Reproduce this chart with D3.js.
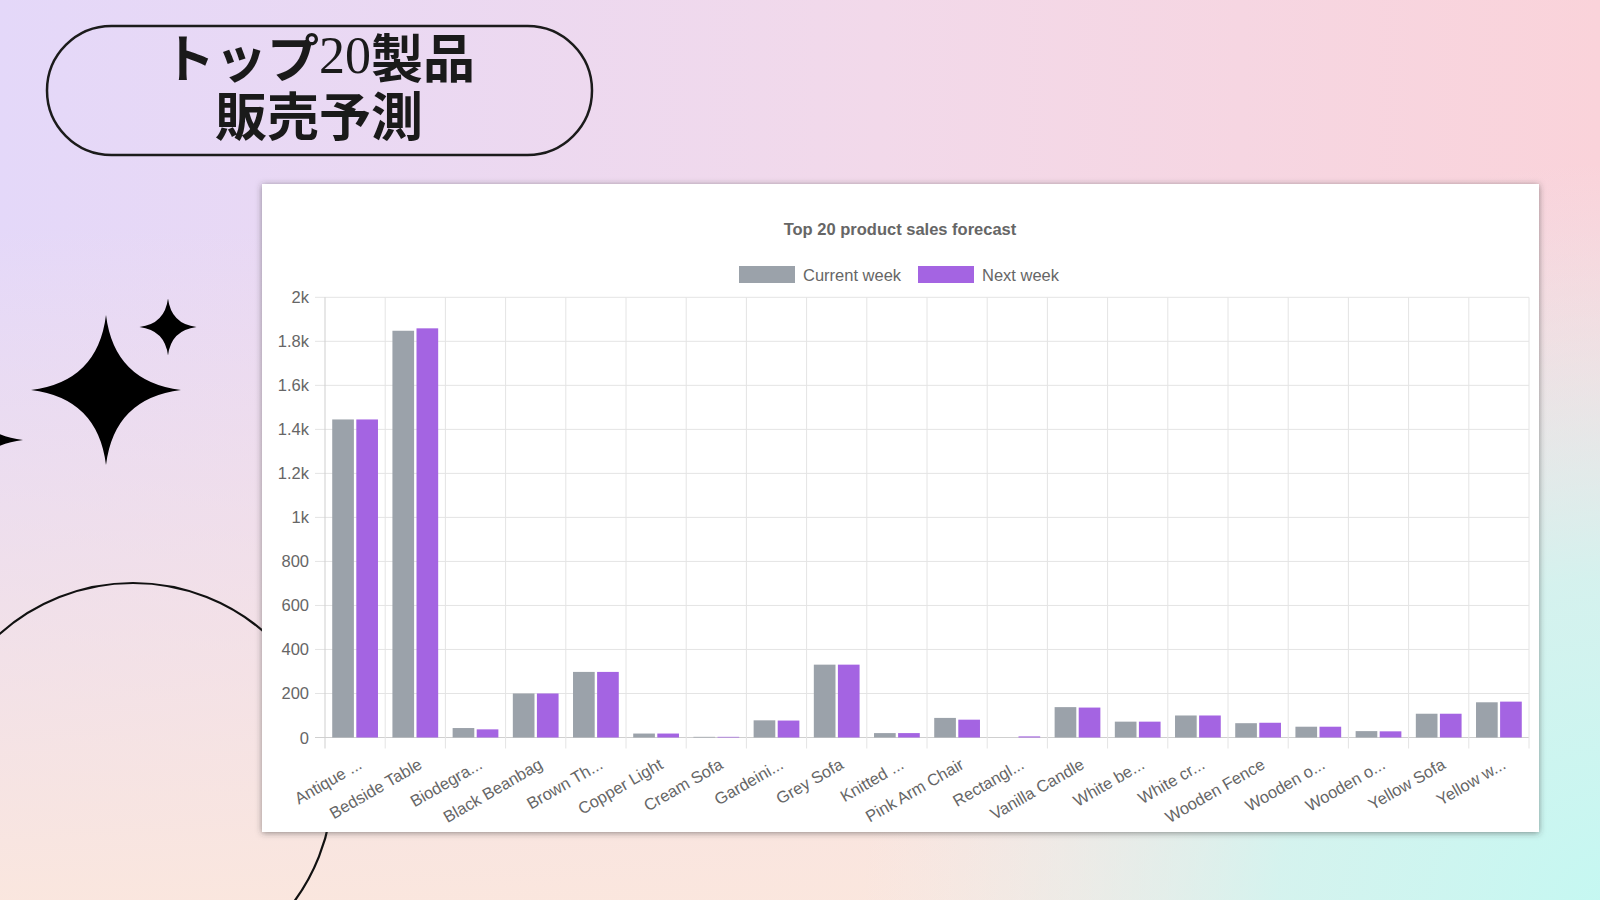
<!DOCTYPE html>
<html>
<head>
<meta charset="utf-8">
<script src="https://cdn.jsdelivr.net/npm/d3@7"></script>
<style>
  html, body { margin: 0; padding: 0; background: #fff; }
  svg { display: block; }
  .tick-label { font-family: "Liberation Sans", Arial, sans-serif; font-size: 16.5px; fill: #666; }
</style>
</head>
<body>
<div id="chart"></div>
<script>
// chart values
var categories = ["Antique ...", "Bedside Table", "Biodegra...", "Black Beanbag", "Brown Th...",
  "Copper Light", "Cream Sofa", "Gardeini...", "Grey Sofa", "Knitted ...",
  "Pink Arm Chair", "Rectangl...", "Vanilla Candle", "White be...", "White cr...",
  "Wooden Fence", "Wooden o...", "Wooden o...", "Yellow Sofa", "Yellow w..."]
var currentWeek = [1445, 1848, 43, 200, 298, 18, 3, 78, 331, 20, 89, 0, 138, 72, 100, 65, 49, 29, 108, 160]
var nextWeek    = [1445, 1859, 37, 200, 298, 18, 3, 77, 331, 20, 81, 5, 136, 72, 100, 67, 49, 28, 108, 163]
var seriesNames = ["Current week", "Next week"]
var seriesColors = ["#9ba2aa", "#a464e2"]
var yTicks = [0, 200, 400, 600, 800, 1000, 1200, 1400, 1600, 1800, 2000]
var chartTitle = "Top 20 product sales forecast"
var headline = ["トップ", "20", "製品"]
var headline2 = "販売予測"

var W = 1600, H = 900

var svg = d3.select("#chart").append("svg").attr("width", W).attr("height", H)
var defs = svg.append("defs")

// background gradients
var lg = defs.append("linearGradient").attr("id", "bgTop").attr("x1", 0).attr("y1", 0).attr("x2", 1).attr("y2", 0)
lg.append("stop").attr("offset", 0).attr("stop-color", "#e4d8f9")
lg.append("stop").attr("offset", 0.55).attr("stop-color", "#f2d9ea")
lg.append("stop").attr("offset", 1).attr("stop-color", "#fad3da")

var lv = defs.append("linearGradient").attr("id", "bgBottom").attr("x1", 0).attr("y1", 0).attr("x2", 0).attr("y2", 1)
lv.append("stop").attr("offset", 0.25).attr("stop-color", "#fbe7dd").attr("stop-opacity", 0)
lv.append("stop").attr("offset", 1).attr("stop-color", "#fbe7dd").attr("stop-opacity", 0.95)

var rg = defs.append("radialGradient").attr("id", "bgMint")
  .attr("gradientUnits", "userSpaceOnUse").attr("cx", 1620).attr("cy", 920).attr("r", 760)
rg.append("stop").attr("offset", 0).attr("stop-color", "#c4f8f2").attr("stop-opacity", 1)
rg.append("stop").attr("offset", 0.45).attr("stop-color", "#cef5f1").attr("stop-opacity", 0.85)
rg.append("stop").attr("offset", 1).attr("stop-color", "#e8eef3").attr("stop-opacity", 0)

var shadow = defs.append("filter").attr("id", "cardShadow")
  .attr("x", "-5%").attr("y", "-5%").attr("width", "110%").attr("height", "110%")
shadow.append("feDropShadow").attr("dx", 0).attr("dy", 1).attr("stdDeviation", 3)
  .attr("flood-color", "#3a3a3a").attr("flood-opacity", 0.55)

svg.append("rect").attr("width", W).attr("height", H).attr("fill", "url(#bgTop)")
svg.append("rect").attr("width", W).attr("height", H).attr("fill", "url(#bgBottom)")
svg.append("rect").attr("width", W).attr("height", H).attr("fill", "url(#bgMint)")

// decorations: arc behind the card and sparkles
svg.append("circle").attr("cx", 133).attr("cy", 783).attr("r", 200)
  .attr("fill", "none").attr("stroke", "#111").attr("stroke-width", 2.2)

function sparkle(cx, cy, r) {
  var c = r * 0.11
  var p = d3.path()
  p.moveTo(cx, cy - r)
  p.quadraticCurveTo(cx + c, cy - c, cx + r, cy)
  p.quadraticCurveTo(cx + c, cy + c, cx, cy + r)
  p.quadraticCurveTo(cx - c, cy + c, cx - r, cy)
  p.quadraticCurveTo(cx - c, cy - c, cx, cy - r)
  p.closePath()
  return p.toString()
}
svg.append("path").attr("d", sparkle(106, 390, 75)).attr("fill", "#000")
svg.append("path").attr("d", sparkle(168, 327, 28.5)).attr("fill", "#000")
svg.append("path").attr("d", sparkle(-38, 440, 61)).attr("fill", "#000")

// headline pill
svg.append("rect").attr("x", 47).attr("y", 26).attr("width", 545).attr("height", 129)
  .attr("rx", 64.5).attr("ry", 64.5)
  .attr("fill", "none").attr("stroke", "#1b1b1b").attr("stroke-width", 2.5)

// both headline lines in one text; the digits use a serif face
var head = svg.append("text")
  .attr("text-anchor", "middle").attr("dominant-baseline", "central")
  .style("font-family", "'Noto Sans CJK JP', sans-serif").style("font-size", "52px")
  .style("font-weight", 700).style("fill", "#1a1a1a")
head.append("tspan").attr("x", 319).attr("y", 55).text(headline[0])
head.append("tspan").text(headline[1])
  .style("font-family", "'Liberation Serif', 'DejaVu Serif', serif").style("font-weight", 400)
head.append("tspan").text(headline[2])
head.append("tspan").attr("x", 319).attr("y", 113).text(headline2)

// chart card
svg.append("rect").attr("x", 262).attr("y", 184).attr("width", 1277).attr("height", 648)
  .attr("fill", "#fff").attr("filter", "url(#cardShadow)")

svg.append("text").attr("x", 900).attr("y", 229)
  .attr("text-anchor", "middle").attr("dominant-baseline", "central")
  .style("font-family", "'Liberation Sans', Arial, sans-serif").style("font-size", "16.5px")
  .style("font-weight", 700).style("fill", "#666")
  .text(chartTitle)

// legend
var legendX = [739, 918]
seriesNames.forEach(function(name, i) {
  svg.append("rect").attr("x", legendX[i]).attr("y", 266).attr("width", 56).attr("height", 17)
    .attr("fill", seriesColors[i])
  svg.append("text").attr("class", "tick-label").attr("x", legendX[i] + 64).attr("y", 274.5)
    .attr("dominant-baseline", "central").text(name)
})

// scales
var plot = {left: 325, right: 1529, top: 297.3, bottom: 737.5}

var x0 = d3.scaleBand()
  .domain(d3.range(categories.length))
  .range([plot.left, plot.right])
  .padding(0)

var bw = x0.bandwidth()
var x1 = d3.scaleBand()
  .domain([0, 1])
  .range([0.1 * bw, 0.9 * bw])
  .paddingInner(0.1)
  .paddingOuter(0.05)

var y = d3.scaleLinear().domain([0, 2000]).range([plot.bottom, plot.top])

var g = svg.append("g")

// horizontal grid + y tick marks
g.selectAll("line.hgrid").data(yTicks).enter().append("line")
  .attr("class", "hgrid")
  .attr("x1", plot.left - 10).attr("x2", plot.right)
  .attr("y1", function(d) { return y(d) }).attr("y2", function(d) { return y(d) })
  .attr("stroke", function(d) { return d === 0 ? "#cfcfcf" : "#e4e4e4" })
  .attr("stroke-width", 1)

// vertical grid at band edges + x tick marks
var edges = d3.range(categories.length + 1).map(function(i) { return plot.left + i * bw })
g.selectAll("line.vgrid").data(edges).enter().append("line")
  .attr("class", "vgrid")
  .attr("x1", function(d) { return d }).attr("x2", function(d) { return d })
  .attr("y1", plot.top).attr("y2", plot.bottom + 11)
  .attr("stroke", function(d, i) { return i === 0 ? "#cfcfcf" : "#e4e4e4" })
  .attr("stroke-width", 1)

// y labels
g.selectAll("text.ylab").data(yTicks).enter().append("text")
  .attr("class", "tick-label ylab")
  .attr("x", plot.left - 16).attr("y", function(d) { return y(d) })
  .attr("text-anchor", "end").attr("dominant-baseline", "central")
  .text(function(d) { return d >= 1000 ? (d / 1000) + "k" : d })

// bars
var rows = categories.map(function(c, i) { return {i: i, vals: [currentWeek[i], nextWeek[i]]} })
var groups = g.selectAll("g.barGroup").data(rows).enter().append("g")
  .attr("class", "barGroup")
  .attr("transform", function(d) { return "translate(" + x0(d.i) + ",0)" })

groups.selectAll("rect").data(function(d) { return d.vals }).enter().append("rect")
  .attr("x", function(d, j) { return x1(j) })
  .attr("width", x1.bandwidth())
  .attr("y", function(d) { return y(d) })
  .attr("height", function(d) { return y(0) - y(d) })
  .attr("fill", function(d, j) { return seriesColors[j] })

// x labels, rotated
g.selectAll("text.xlab").data(categories).enter().append("text")
  .attr("class", "tick-label xlab")
  .attr("text-anchor", "end").attr("dominant-baseline", "central")
  .attr("transform", function(d, i) {
    return "translate(" + (x0(i) + bw / 2 + 5) + "," + (plot.bottom + 25) + ") rotate(-30)"
  })
  .text(function(d) { return d })
</script>
</body>
</html>
